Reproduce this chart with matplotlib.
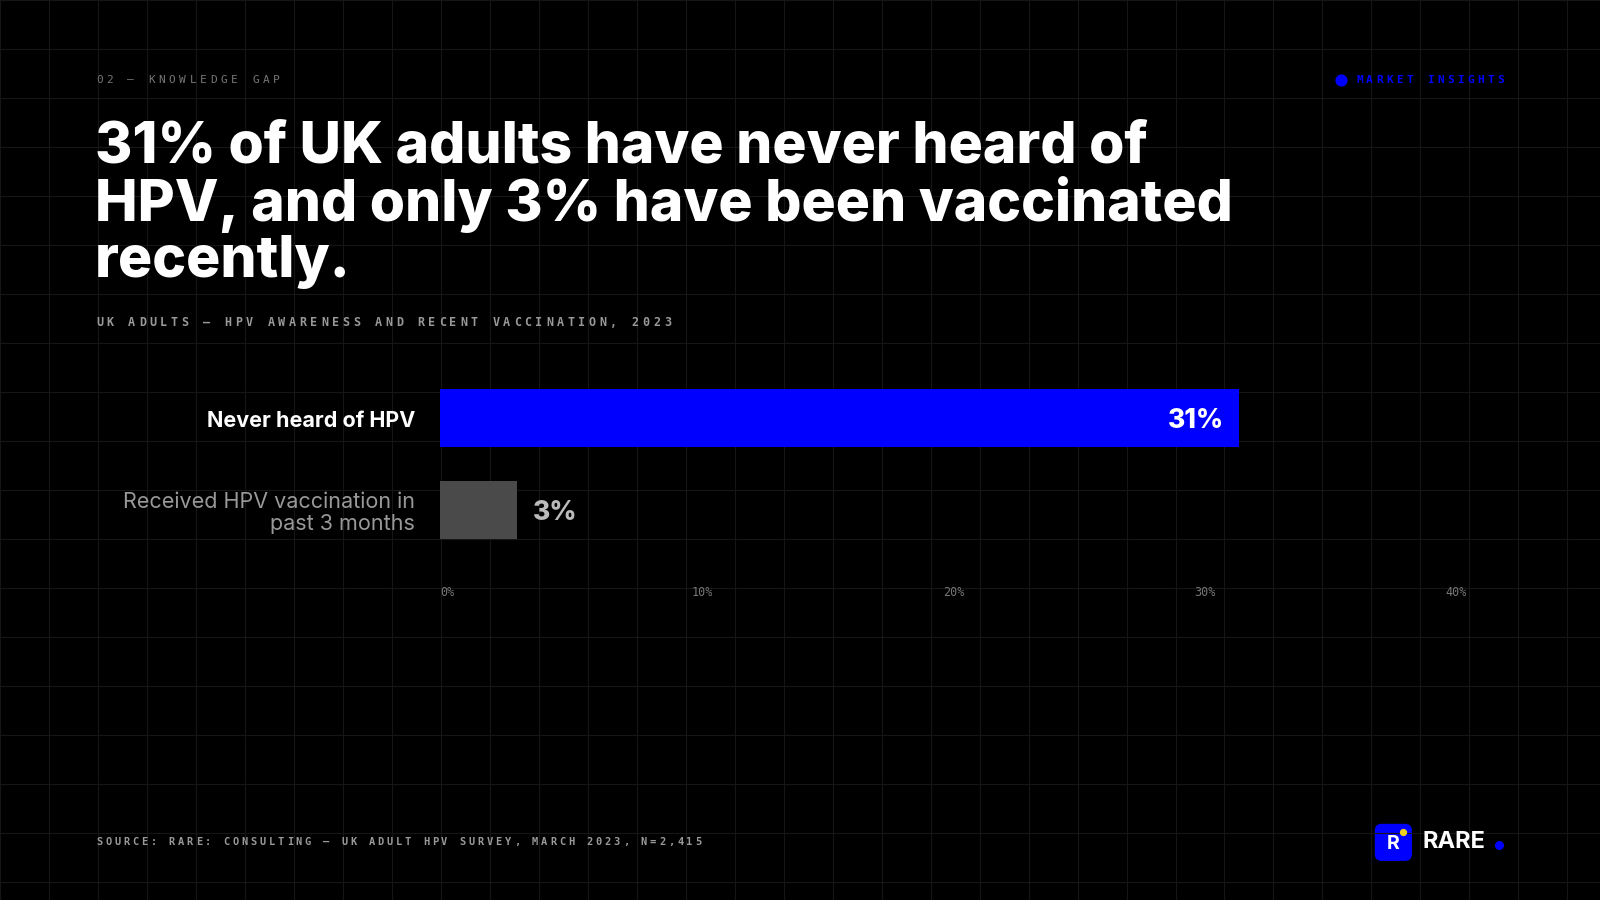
import matplotlib.pyplot as plt
from matplotlib.patches import FancyBboxPatch

categories = ['Never heard of HPV', 'Received HPV vaccination in\npast 3 months']
values = [31, 3]
value_labels = ['31%', '3%']
tick_values = [0, 10, 20, 30, 40]
tick_labels = ['0%', '10%', '20%', '30%', '40%']

W, H = 1568, 882
BLUE = '#0000ff'
MONO = 'DejaVu Sans Mono'
SANS = 'Inter'

def fx(px):
    return px / W

def fy(py):
    return 1 - py / H

fig = plt.figure(figsize=(16, 9), dpi=100)
fig.patch.set_facecolor('#000000')

# background grid, in reference pixel coords
bg = fig.add_axes([0, 0, 1, 1])
bg.set_xlim(0, W)
bg.set_ylim(H, 0)
bg.axis('off')
for x in range(0, W + 1, 48):
    bg.axvline(x, color='#161616', lw=0.8)
for y in range(0, H + 1, 48):
    bg.axhline(y, color='#161616', lw=0.8)


def spaced(x, y, s, pitch, ax=bg, **kw):
    # tracked-out monospace label: one glyph per fixed step
    for i, ch in enumerate(s):
        ax.text(x + i * pitch, y, ch, va='center', ha='left', family=MONO, **kw)


spaced(94, 78, '02 — KNOWLEDGE GAP', 10.2, color='#777777', fontsize=8)
spaced(1329, 78, 'MARKET INSIGHTS', 9.9, color=BLUE, fontsize=8, weight='bold')
bg.scatter([1314], [78], s=60, color=BLUE)

fig.text(fx(93), fy(118), '31% of UK adults have never heard of\nHPV, and only 3% have been vaccinated\nrecently.',
         color='white', family=SANS, weight='heavy', fontsize=41, va='top',
         linespacing=1.04)
spaced(94, 316, 'UK ADULTS — HPV AWARENESS AND RECENT VACCINATION, 2023', 10.5,
       color='#999999', fontsize=8.5, weight='bold')

# bar chart
ax = fig.add_axes([fx(431), fy(545), fx(1441) - fx(431), 180 / H])
ax.set_facecolor('none')
ypos = [0, 1]
colors = [BLUE, '#4a4a4a']
ax.barh(ypos, values, height=0.633, color=colors)
ax.set_xlim(0, 40)
ax.set_ylim(1.5, -0.5)
ax.axis('off')
ax.text(values[0] - 0.55, 0.03, value_labels[0], color='white', family=SANS,
        weight='heavy', fontsize=19, va='center', ha='right')
ax.text(values[1] + 0.6, 1.03, value_labels[1], color='#bbbbbb', family=SANS,
        weight='heavy', fontsize=19, va='center', ha='left')
ax.text(-0.95, 0.03, categories[0], color='white', family=SANS, weight='bold',
        fontsize=15.5, va='center', ha='right')
ax.text(-0.95, 1.03, categories[1], color='#999999', family=SANS,
        fontsize=15.5, va='center', ha='right', linespacing=1.15)
for v, lab in zip(tick_values, tick_labels):
    ax.text(v * 0.976, 1.9, lab, color='#777777', family=MONO, fontsize=8.5,
            ha='left', va='center', clip_on=False)

spaced(94, 825, 'SOURCE: RARE: CONSULTING — UK ADULT HPV SURVEY, MARCH 2023, N=2,415', 8.9,
       color='#999999', fontsize=7.5, weight='bold')

# logo
bg.add_patch(FancyBboxPatch((1348, 808), 35, 35, boxstyle='round,pad=0,rounding_size=6',
                            color=BLUE))
bg.text(1365, 827, 'R', color='white', family=SANS, weight='bold', fontsize=14,
        ha='center', va='center')
bg.scatter([1375], [815], s=18, color='#f0d020', zorder=5)
bg.text(1394, 825, 'RARE', color='white', family=SANS, weight='bold', fontsize=17,
        ha='left', va='center')
bg.scatter([1469], [828], s=30, color=BLUE)

fig.savefig('out.png', dpi=100, facecolor=fig.get_facecolor())
